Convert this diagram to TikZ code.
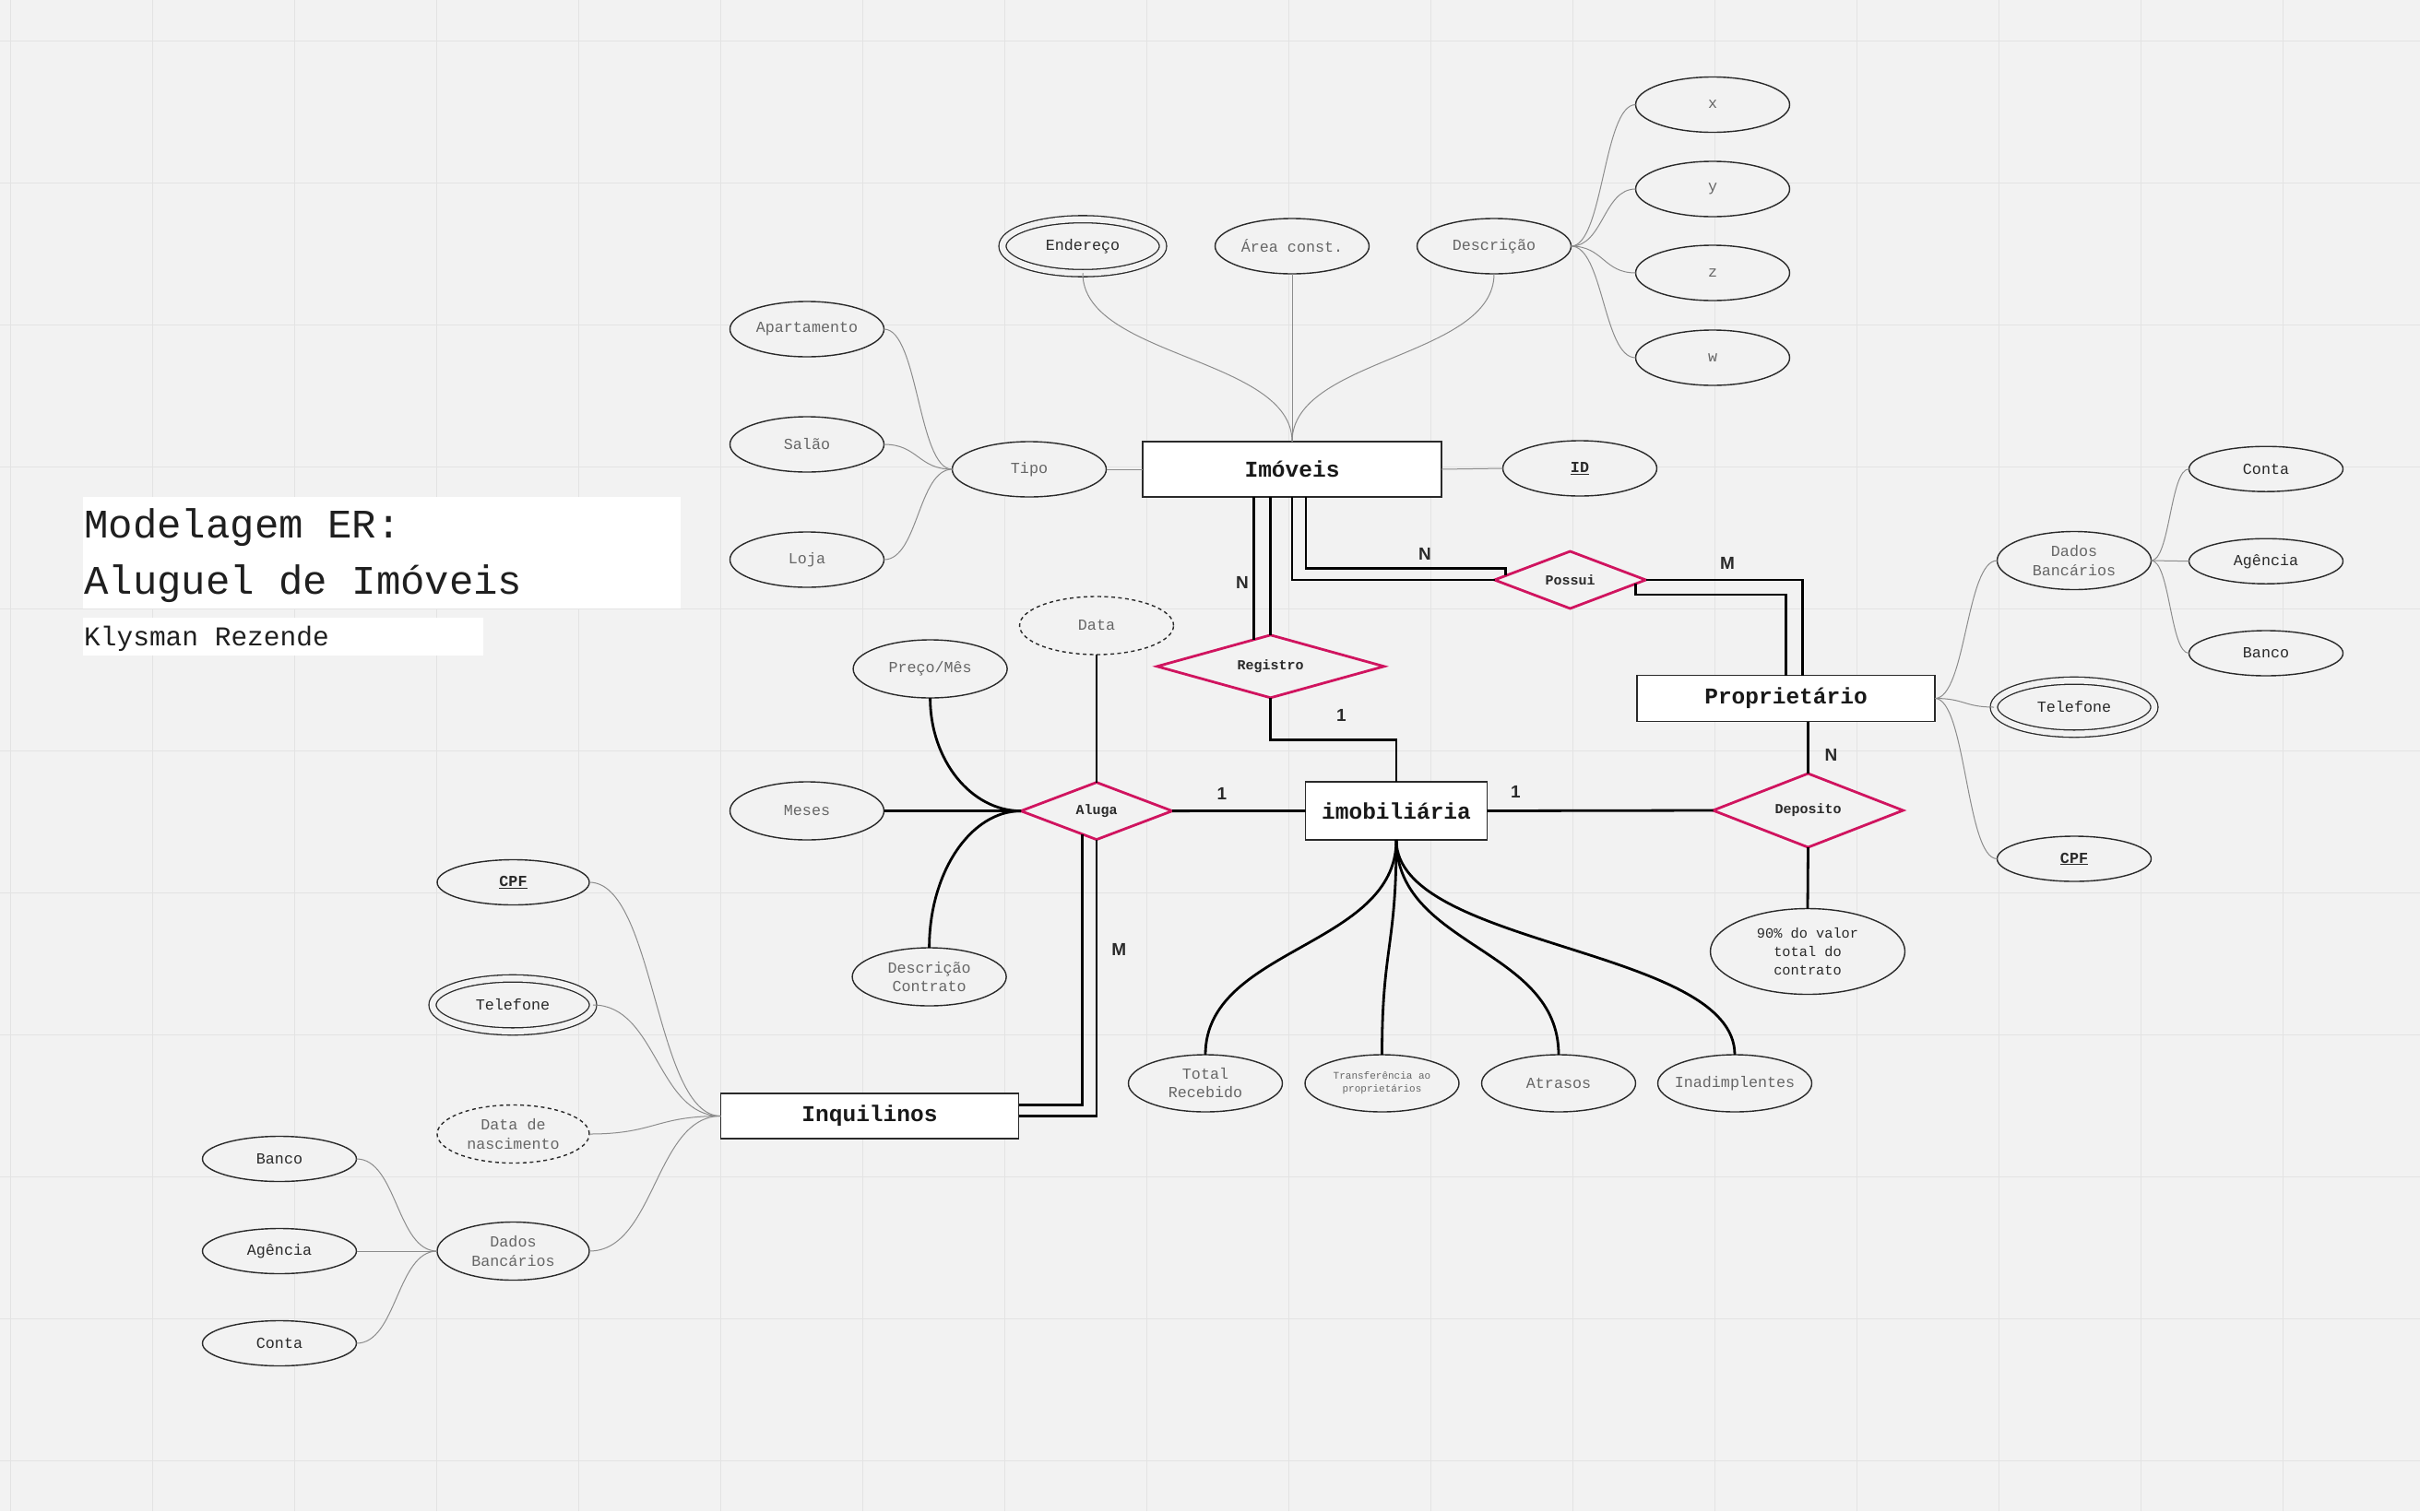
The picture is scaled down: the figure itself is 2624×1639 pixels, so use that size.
\documentclass[tikz,border=0pt]{standalone}
\usepackage{fontspec}
\newfontfamily\monof{Liberation Mono}
\newfontfamily\sansf{Liberation Sans}
\usetikzlibrary{shapes.geometric,calc}

\definecolor{bgcol}{HTML}{F2F2F2}
\definecolor{gridcol}{HTML}{E3E3E3}
\definecolor{relcol}{HTML}{D0145F}
\definecolor{inkdark}{HTML}{2A2A2A}
\definecolor{inkgrey}{HTML}{666666}
\definecolor{wirecol}{HTML}{8C8C8C}

\begin{document}
\begin{tikzpicture}[x=1pt,y=-1pt,
  attr/.style={ellipse, draw=inkdark, line width=1.4pt, fill=bgcol,
    inner xsep=-12pt, inner ysep=-4pt, outer sep=0pt,
    minimum width=167pt, minimum height=60pt, text=inkgrey,
    font=\monof\fontsize{16.7}{21}\selectfont, align=center},
  dattr/.style={attr, double=bgcol, double distance=6.5pt, line width=1.3pt,
    minimum width=174pt, minimum height=58pt, text=inkdark},
  dashattr/.style={attr, dash pattern=on 4pt off 3.5pt},
  entity/.style={rectangle, draw=inkdark, line width=1.5pt, fill=white,
    inner sep=0pt, outer sep=0pt, text=black!90,
    font=\monof\bfseries\fontsize{24.5}{28}\selectfont},
  rel/.style={diamond, aspect=3, draw=relcol, line width=2.8pt, fill=bgcol,
    inner sep=0pt, outer sep=0pt, text=inkdark,
    font=\monof\bfseries\fontsize{15}{18}\selectfont},
  card/.style={inner sep=0pt, text=inkdark, font=\sansf\bfseries\fontsize{19}{22}\selectfont},
  wire/.style={draw=wirecol, line width=1pt},
  link/.style={draw=black, line width=2.8pt},
  hs/.style={to path={let \p1=(\tikztostart), \p2=(\tikztotarget) in
    .. controls ({0.5*\x1+0.5*\x2},\y1) and ({0.5*\x1+0.5*\x2},\y2) .. (\tikztotarget) \tikztonodes}},
  vs/.style={to path={let \p1=(\tikztostart), \p2=(\tikztotarget) in
    .. controls (\x1,{0.5*\y1+0.5*\y2}) and (\x2,{0.5*\y1+0.5*\y2}) .. (\tikztotarget) \tikztonodes}},
  vh/.style={to path={let \p1=(\tikztostart), \p2=(\tikztotarget) in
    .. controls (\x1,{\y1+0.55*(\y2-\y1)}) and ({\x2-0.55*(\x2-\x1)},\y2) .. (\tikztotarget) \tikztonodes}}
]

% canvas and grid
\fill[bgcol] (0,0) rectangle (2624,1639);
\useasboundingbox (0,0) rectangle (2624,1639);
\foreach \gx in {0,...,16} \draw[gridcol, line width=1.2pt] ({11.5+154*\gx},0) -- ({11.5+154*\gx},1639);
\foreach \gy in {0,...,10} \draw[gridcol, line width=1.2pt] (0,{44.3+154*\gy}) -- (2624,{44.3+154*\gy});

% title block
\fill[white] (89.7,539) rectangle (737.8,660);
\fill[white] (89.7,670) rectangle (524,710.7);
\node[anchor=base west, inner sep=0pt, text=black!88, font=\monof\fontsize{44}{50}\selectfont] (title1) at (91,583.5) {Modelagem ER:};
\node[anchor=base west, inner sep=0pt, text=black!88, font=\monof\fontsize{44}{50}\selectfont] (title2) at (91,644) {Aluguel de Imóveis};
\node[anchor=base west, inner sep=0pt, text=black!88, font=\monof\fontsize{29.5}{32}\selectfont] (author) at (91,700) {Klysman Rezende};

% entities
\node[entity, minimum width=324pt, minimum height=60pt] (imoveis) at (1401,509) {Imóveis};
\node[entity, minimum width=323pt, minimum height=50pt] (prop) at (1936.5,757.5) {Proprietário};
\node[entity, minimum width=197pt, minimum height=63pt] (imob) at (1514,879.5) {imobiliária};
\node[entity, minimum width=323pt, minimum height=49pt] (inq) at (943,1210.5) {Inquilinos};

% relationships
\node[rel, minimum width=246pt, minimum height=68pt] (registro) at (1377.7,722.8) {Registro};
\node[rel, minimum width=164pt, minimum height=62pt] (possui) at (1702.5,629) {Possui};
\node[rel, minimum width=164pt, minimum height=62pt] (aluga) at (1189,879.6) {Aluga};
\node[rel, minimum width=206pt, minimum height=80pt] (deposito) at (1960.5,879) {Deposito};

% attributes of Imóveis
\node[attr] (apto) at (875,357) {Apartamento};
\node[attr] (salao) at (875,482) {Salão};
\node[attr] (loja) at (875,607) {Loja};
\node[attr] (tipo) at (1116,509) {Tipo};
\node[dattr, minimum height=58.5pt] (ender) at (1174,267) {Endereço};
\node[attr] (area) at (1401,267) {Área const.};
\node[attr] (descr) at (1620,267) {Descrição};
\node[attr] (dx) at (1857,113.5) {x};
\node[attr] (dy) at (1857,205) {y};
\node[attr] (dz) at (1857,296) {z};
\node[attr] (dw) at (1857,388) {w};
\node[attr, text=inkdark] (id) at (1713,508) {\underline{\textbf{ID}}};

% attributes of Proprietário
\node[attr, minimum height=63pt] (pdados) at (2249,608) {Dados\\Bancários};
\node[attr, minimum height=49pt, text=inkdark] (pconta) at (2457,508.7) {Conta};
\node[attr, minimum height=49pt, text=inkdark] (pagencia) at (2457,608.7) {Agência};
\node[attr, minimum height=49pt, text=inkdark] (pbanco) at (2457,708.5) {Banco};
\node[dattr, minimum height=57.5pt] (ptel) at (2249,767) {Telefone};
\node[attr, minimum height=49pt, text=inkdark] (pcpf) at (2249,931.5) {\underline{\textbf{CPF}}};

% attributes of Aluga
\node[dashattr, minimum height=63pt] (data) at (1189,678.5) {Data};
\node[attr, minimum height=63pt] (preco) at (1008.6,725.5) {Preço/Mês};
\node[attr, minimum height=63pt] (meses) at (875,879.5) {Meses};
\node[attr, minimum height=63pt, font=\monof\fontsize{16.7}{20}\selectfont] (desccont) at (1007.6,1059.5) {Descrição\\Contrato};

% attributes of imobiliária
\node[attr, minimum height=62pt, font=\monof\fontsize{16.7}{20}\selectfont] (total) at (1307,1175) {Total\\Recebido};
\node[attr, minimum height=62pt, font=\monof\fontsize{11}{14}\selectfont] (transf) at (1498.5,1175) {Transferência ao\\proprietários};
\node[attr, minimum height=62pt] (atrasos) at (1690,1175) {Atrasos};
\node[attr, minimum height=62pt] (inadim) at (1881,1175) {Inadimplentes};

% attribute of Deposito
\node[attr, minimum width=211pt, minimum height=93pt, text=inkdark,
  font=\monof\fontsize{15.3}{19.6}\selectfont] (pct) at (1960,1032) {90\% do valor\\total do\\contrato};

% attributes of Inquilinos
\node[attr, minimum width=165pt, minimum height=49pt, text=inkdark] (icpf) at (556.5,957) {\underline{\textbf{CPF}}};
\node[dattr, minimum height=57.5pt] (itel) at (556,1090) {Telefone};
\node[dashattr, minimum width=165pt, minimum height=63pt] (inasc) at (556.5,1230) {Data de\\nascimento};
\node[attr, minimum width=165pt, minimum height=63pt] (idados) at (556.5,1357) {Dados\\Bancários};
\node[attr, minimum height=49pt, text=inkdark] (ibanco) at (303,1257) {Banco};
\node[attr, minimum height=49pt, text=inkdark] (iagencia) at (303,1357) {Agência};
\node[attr, minimum height=49pt, text=inkdark] (iconta) at (303,1457) {Conta};

% thin attribute links
\draw[wire] (apto.east) to[hs] (tipo.west);
\draw[wire] (salao.east) to[hs] (tipo.west);
\draw[wire] (loja.east) to[hs] (tipo.west);
\draw[wire] (tipo.east) -- (imoveis.west);
\draw[wire] (ender.south) to[vs] (imoveis.north);
\draw[wire] (area.south) -- (imoveis.north);
\draw[wire] (descr.south) to[vs] (imoveis.north);
\foreach \nd in {dx,dy,dz,dw} \draw[wire] (descr.east) to[hs] (\nd.west);
\draw[wire] (imoveis.east) -- (id.west);

\foreach \nd in {pdados,ptel,pcpf} \draw[wire] (prop.east) to[hs] (\nd.west);
\foreach \nd in {pconta,pagencia,pbanco} \draw[wire] (pdados.east) to[hs] (\nd.west);

\foreach \nd in {icpf,itel,inasc,idados} \draw[wire] (\nd.east) to[hs] (inq.west);
\foreach \nd in {ibanco,iagencia,iconta} \draw[wire] (\nd.east) to[hs] (idados.west);

% attributes of Aluga, imobiliária and Deposito
\draw[link] (preco.south) to[vh] (aluga.west);
\draw[link] (desccont.north) to[vh] (aluga.west);
\draw[link] (meses.east) -- (aluga.west);
\draw[link] (data.south) -- (aluga.north);
\foreach \nd in {total,transf,atrasos,inadim} \draw[link] (imob.south) to[vs] (\nd.north);
\draw[link] (deposito.south) -- (pct.north);

% Imóveis -- Registro (double)
\coordinate (regA) at ($(registro.north)!0.15!(registro.west)$);
\draw[link] (imoveis.south -| registro.north) -- (registro.north);
\draw[link] (imoveis.south -| regA) -- (regA);

% Imóveis -- Possui (double)
\coordinate (posA) at ($(possui.west)!0.15!(possui.north)$);
\draw[link] (imoveis.south) |- (possui.west);
\draw[link] ([xshift=15pt]imoveis.south) |- ($(posA)+(0,-8)$) -- (posA);

% Possui -- Proprietário (double)
\coordinate (posB) at ($(possui.east)!0.13!(possui.south)$);
\draw[link] (possui.east) -| ([xshift=18pt]prop.north);
\draw[link] (posB) -- ++(0,12) -| (prop.north);

% Registro -- imobiliária
\draw[link] (registro.south) -- ++(0,46) -| (imob.north);

% Aluga -- imobiliária -- Deposito -- Proprietário
\draw[link] (aluga.east) -- (imob.west);
\draw[link] (imob.east) -- (deposito.west);
\draw[link] (prop.south -| deposito.north) -- (deposito.north);

% Aluga -- Inquilinos (double)
\coordinate (alA) at ($(aluga.south)!0.19!(aluga.west)$);
\draw[link] (aluga.south) |- (inq.east);
\draw[link] (alA) |- ($(inq.east)+(0,-12)$);

% cardinalities
\node[card] (cardRegN) at (1347,632) {N};
\node[card] (cardPosN) at (1545,601) {N};
\node[card] (cardPosM) at (1873,611) {M};
\node[card] (cardReg1) at (1454.5,776) {1};
\node[card] (cardAlu1) at (1325,861) {1};
\node[card] (cardDep1) at (1643.5,859) {1};
\node[card] (cardDepN) at (1985.5,819) {N};
\node[card] (cardAluM) at (1213.3,1030) {M};

\end{tikzpicture}
\end{document}
